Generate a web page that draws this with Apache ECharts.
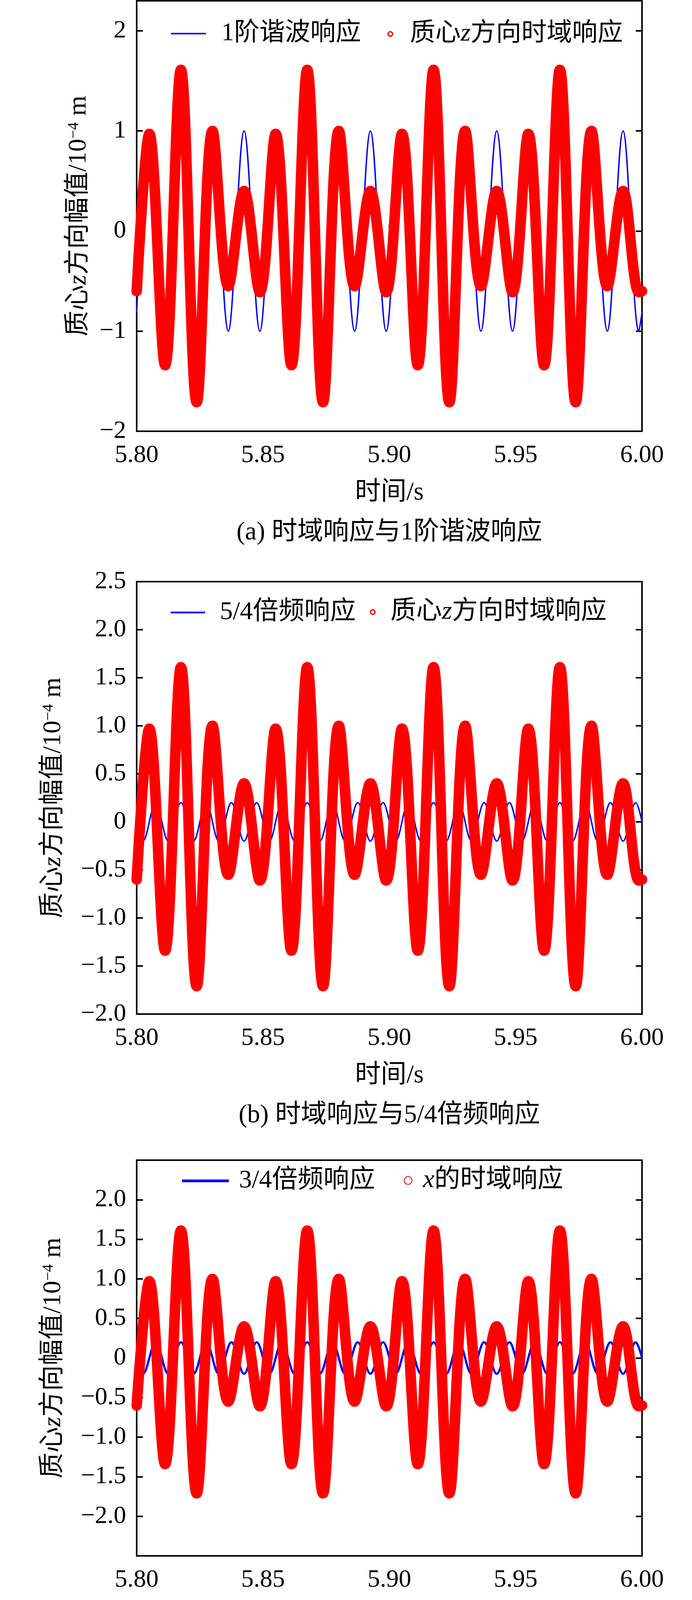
<!DOCTYPE html>
<html>
<head>
<meta charset="utf-8">
<script src="https://cdn.jsdelivr.net/npm/echarts@6/dist/echarts.min.js"></script>
<style>
    html, body { margin: 0; padding: 0; background: #fff; }
    #charts { width: 1772px; height: 5666px; }
</style>
</head>
<body>
<div id="charts"></div>
<script>
// times of the peaks / troughs of the 80 Hz (1st harmonic) component, s
var time80 = [
    5.8,
    5.805, 5.81125, 5.8175, 5.82375, 5.83, 5.83625, 5.8425, 5.84875,
    5.855, 5.86125, 5.8675, 5.87375, 5.88, 5.88625, 5.8925, 5.89875,
    5.905, 5.91125, 5.9175, 5.92375, 5.93, 5.93625, 5.9425, 5.94875,
    5.955, 5.96125, 5.9675, 5.97375, 5.98, 5.98625, 5.9925, 5.99875,
    6.0
];
// time domain response of the mass centre, z direction (1e-4 m)
var respZ = [
    -0.60,
    0.97, -1.34, 1.61, -1.71, 1.00, -0.55, 0.40, -0.61,
    0.97, -1.34, 1.61, -1.71, 1.00, -0.55, 0.40, -0.61,
    0.97, -1.34, 1.61, -1.71, 1.00, -0.55, 0.40, -0.61,
    0.97, -1.34, 1.61, -1.71, 1.00, -0.55, 0.40, -0.61,
    -0.60
];
// 1st harmonic response
var harm1 = [
    -0.81,
    1, -1, 1, -1, 1, -1, 1, -1,
    1, -1, 1, -1, 1, -1, 1, -1,
    1, -1, 1, -1, 1, -1, 1, -1,
    1, -1, 1, -1, 1, -1, 1, -1,
    -0.81
];
// response of the 3 largest fourier components
var fourier3 = [
    -0.58,
    0.97, -1.36, 1.60, -1.70, 1.22, -0.92, 0.65, -0.64,
    0.99, -1.36, 1.60, -1.70, 1.15, -0.84, 0.60, -0.62,
    1.00, -1.35, 1.60, -1.71, 1.02, -0.74, 0.60, -0.70,
    1.00, -1.35, 1.60, -1.72, 0.98, -0.66, 0.60, -0.78,
    -0.74
];
// peaks / troughs of the small 100 Hz curves
var time100 = [
    5.8,
    5.8025, 5.8075, 5.8125, 5.8175, 5.8225, 5.8275, 5.8325, 5.8375, 5.8425, 5.8475,
    5.8525, 5.8575, 5.8625, 5.8675, 5.8725, 5.8775, 5.8825, 5.8875, 5.8925, 5.8975,
    5.9025, 5.9075, 5.9125, 5.9175, 5.9225, 5.9275, 5.9325, 5.9375, 5.9425, 5.9475,
    5.9525, 5.9575, 5.9625, 5.9675, 5.9725, 5.9775, 5.9825, 5.9875, 5.9925, 5.9975,
    6.0
];
var freq54 = [
    0,
    -0.2, 0.2, -0.2, 0.2, -0.2, 0.2, -0.2, 0.2, -0.2, 0.2,
    -0.2, 0.2, -0.2, 0.2, -0.2, 0.2, -0.2, 0.2, -0.2, 0.2,
    -0.2, 0.2, -0.2, 0.2, -0.2, 0.2, -0.2, 0.2, -0.2, 0.2,
    -0.2, 0.2, -0.2, 0.2, -0.2, 0.2, -0.2, 0.2, -0.2, 0.2,
    0
];
var freq34 = [
    0,
    -0.2, 0.2, -0.2, 0.2, -0.2, 0.2, -0.2, 0.2, -0.2, 0.2,
    -0.2, 0.2, -0.2, 0.2, -0.2, 0.2, -0.2, 0.2, -0.2, 0.2,
    -0.2, 0.2, -0.2, 0.2, -0.2, 0.2, -0.2, 0.2, -0.2, 0.2,
    -0.2, 0.2, -0.2, 0.2, -0.2, 0.2, -0.2, 0.2, -0.2, 0.2,
    0
];
var xTicks = [5.80, 5.85, 5.90, 5.95, 6.00];

var FONT = "'Liberation Serif', 'Noto Sans CJK SC', serif";
var LATIN = "'Liberation Serif', serif";

function pairs(t, v) {
    return t.map(function (x, i) { return [x, v[i]]; });
}

function richStyle(size) {
    return {
        n: { fontFamily: FONT, fontSize: size, lineHeight: size, color: '#000' },
        i: { fontFamily: LATIN, fontStyle: 'italic', fontSize: size, lineHeight: size, color: '#000' },
        s: { fontFamily: LATIN, fontSize: Math.round(size * 0.6), lineHeight: Math.round(size * 0.6), verticalAlign: 'top', color: '#000' }
    };
}

var richNames = {
    '质心z方向时域响应': '{n|质心}{i|z}{n|方向时域响应}',
    'x的时域响应': '{i|x}{n|的时域响应}'
};

var panels = [
    { top: 2, height: 1102, ymin: -2, ymax: 2.3, step: 1, digits: 0, lmin: -2, lmax: 2, nameGap: 115,
      blue: { name: '1阶谐波响应', t: time80, v: harm1, width: 3.5 },
      red: '质心z方向时域响应',
      legBlue: { left: 438, cy: 86, w: 89, h: 4, pad: 35, size: 65 },
      legRed: { left: 992, cy: 87, d: 11.5, bw: 3.5, pad: 39.5, size: 65 },
      caption: '(a) 时域响应与1阶谐波响应', capY: 1364 },
    { top: 1489, height: 1107, ymin: -2, ymax: 2.5, step: 0.5, digits: 1, lmin: -2, lmax: 2.5, nameGap: 180,
      blue: { name: '5/4倍频响应', t: time100, v: freq54, width: 3.6 },
      red: '质心z方向时域响应',
      legBlue: { left: 437, cy: 1568, w: 88, h: 4.5, pad: 33, size: 66 },
      legRed: { left: 947, cy: 1567, d: 11.5, bw: 3.5, pad: 34.5, size: 66 },
      caption: '(b) 时域响应与5/4倍频响应', capY: 2856 },
    { top: 2970, height: 1013, ymin: -2.5, ymax: 2.5, step: 0.5, digits: 1, lmin: -2, lmax: 2, nameGap: 180,
      blue: { name: '3/4倍频响应', t: time100, v: freq34, width: 5.5 },
      red: 'x的时域响应',
      legBlue: { left: 466, cy: 3023, w: 120, h: 7, pad: 21, size: 66 },
      legRed: { left: 1034, cy: 3022, d: 20, bw: 2, pad: 23, size: 66 },
      caption: '(c) 时域响应与3/4倍频响应', capY: 4239 },
    { top: 4365, height: 1000, ymin: -2.5, ymax: 2.5, step: 0.5, digits: 1, lmin: -2, lmax: 2, nameGap: 180,
      blue: { name: '傅里叶幅值最高3阶频率响应', t: time80, v: fourier3, width: 5.5 },
      red: 'x的时域响应',
      legBlue: { left: 470, cy: 4427, w: 122, h: 7, pad: 20, size: 70 },
      legRed: { left: 519, cy: 4498, d: 22, bw: 2, pad: 71, size: 67 },
      caption: '(d) 时域响应与傅里叶幅值最高3阶频率响应', capY: 5624 }
];

var grids = [], xAxes = [], yAxes = [], series = [], legends = [], graphics = [];

panels.forEach(function (p, k) {
    grids.push({ left: 350, width: 1294, top: p.top, height: p.height,
                 show: true, borderColor: '#000', borderWidth: 4 });

    var tick = { inside: true, length: 16, lineStyle: { color: '#000', width: 4 } };

    xAxes.push({
        gridIndex: k, type: 'value', position: 'bottom',
        min: xTicks[0], max: xTicks[xTicks.length - 1], interval: 0.05,
        axisLine: { show: false }, splitLine: { show: false }, axisTick: tick,
        axisLabel: { fontSize: 64, fontFamily: LATIN, color: '#000', margin: 30,
                     formatter: function (v) { return v.toFixed(2); } },
        name: '时间/s', nameLocation: 'middle', nameGap: 125,
        nameTextStyle: { fontSize: 66, fontFamily: FONT, color: '#000' }
    });
    xAxes.push({
        gridIndex: k, type: 'value', position: 'top',
        min: xTicks[0], max: xTicks[xTicks.length - 1], interval: 0.05,
        axisLine: { show: false }, splitLine: { show: false }, axisTick: tick,
        axisLabel: { show: false }
    });

    yAxes.push({
        gridIndex: k, type: 'value', position: 'left',
        min: p.ymin, max: p.ymax, interval: p.step,
        axisLine: { show: false }, splitLine: { show: false }, axisTick: tick,
        axisLabel: {
            fontSize: 64, fontFamily: LATIN, color: '#000', margin: 27,
            formatter: function (v) {
                if (v < p.lmin - 1e-6 || v > p.lmax + 1e-6) return '';
                if (Math.abs(v / p.step - Math.round(v / p.step)) > 1e-6) return '';
                if (Math.abs(v) < 1e-9) return '0';
                return (v < 0 ? '\u2212' : '') + Math.abs(v).toFixed(p.digits);
            }
        },
        name: '{n|质心}{i|z}{n|方向幅值/10}{s|\u22124}{n| m}',
        nameLocation: 'middle', nameRotate: 90, nameGap: p.nameGap,
        nameTextStyle: { rich: richStyle(66) }
    });
    yAxes.push({
        gridIndex: k, type: 'value', position: 'right',
        min: p.ymin, max: p.ymax, interval: p.step,
        axisLine: { show: false }, splitLine: { show: false }, axisTick: tick,
        axisLabel: { show: false }
    });

    series.push({
        type: 'line', name: p.blue.name, xAxisIndex: 2 * k, yAxisIndex: 2 * k,
        data: pairs(p.blue.t, p.blue.v), smooth: 0.36, symbol: 'none', z: 2,
        lineStyle: { color: '#0000ff', width: p.blue.width },
        itemStyle: { color: '#0000ff' }
    });
    series.push({
        type: 'line', name: p.red, xAxisIndex: 2 * k, yAxisIndex: 2 * k,
        data: pairs(time80, respZ), smooth: 0.36, symbol: 'none', z: 3, clip: false,
        lineStyle: { color: '#ff0000', width: 27, cap: 'round', join: 'round' },
        itemStyle: { color: '#ff0000' }
    });

    var lb = p.legBlue, lr = p.legRed;
    legends.push({
        left: lb.left, top: lb.cy - lb.size / 2, padding: 0, selectedMode: false,
        itemWidth: lb.w, itemHeight: lb.h,
        data: [{ name: p.blue.name, icon: 'rect', itemStyle: { color: '#0000ff' } }],
        formatter: function (name) { return richNames[name] || '{n|' + name + '}'; },
        textStyle: { padding: [0, 0, 0, lb.pad], rich: richStyle(lb.size) }
    });
    legends.push({
        left: lr.left, top: lr.cy - lr.size / 2, padding: 0, selectedMode: false,
        itemWidth: lr.d, itemHeight: lr.d,
        data: [{ name: p.red, icon: 'circle',
                 itemStyle: { color: '#ffffff', borderColor: '#ff0000', borderWidth: lr.bw } }],
        formatter: function (name) { return richNames[name] || '{n|' + name + '}'; },
        textStyle: { padding: [0, 0, 0, lr.pad], rich: richStyle(lr.size) }
    });

    graphics.push({
        type: 'text', x: 997, y: p.capY,
        style: { text: p.caption, fontSize: 66, fontFamily: FONT, fill: '#000',
                 align: 'center', verticalAlign: 'middle' }
    });
});

var myChart = echarts.init(document.getElementById('charts'));
myChart.setOption({
    animation: false,
    backgroundColor: '#fff',
    grid: grids,
    xAxis: xAxes,
    yAxis: yAxes,
    legend: legends,
    series: series,
    graphic: graphics
});
</script>
</body>
</html>
